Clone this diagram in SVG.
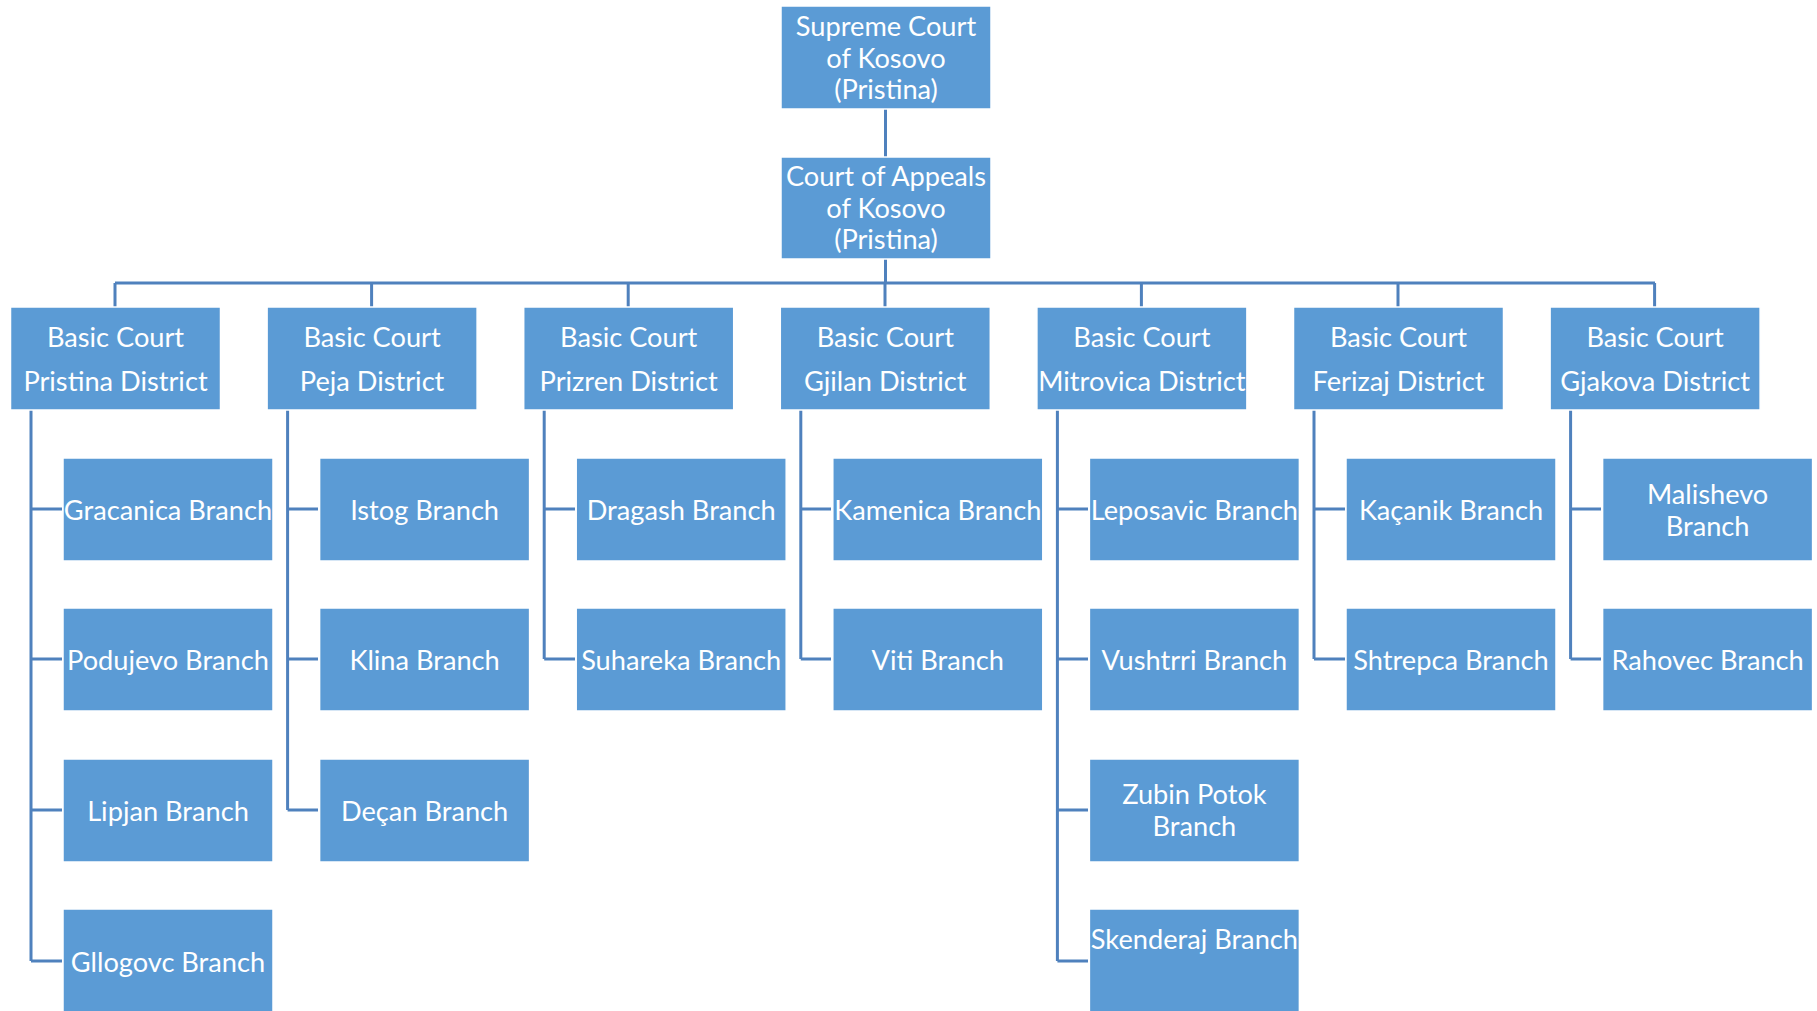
<svg xmlns="http://www.w3.org/2000/svg" width="1817" height="1011" viewBox="0 0 1817 1011">
<style>
.box{fill:#5B9BD5;stroke:#ffffff;stroke-width:1.5}
.t{font-family:Lato,"Open Sans","Liberation Sans",sans-serif;font-size:27.2px;fill:#ffffff;text-anchor:middle;dominant-baseline:central}
.c{fill:none;stroke:#4F81BD;stroke-width:3}
</style>
<rect width="1817" height="1011" fill="#ffffff"/>
<g id="connectors">
<path class="c" d="M885.5 109V157M885.5 259V283M115 283H1655M115 283V307M371.6 283V307M628.2 283V307M885 283V307M1141.4 283V307M1398 283V307M1654.6 283V307"/>
<path class="c" d="M31 410V961M31 509H62M31 659H62M31 810H62M31 961H62"/>
<path class="c" d="M287.6 410V810M287.6 509H318M287.6 659H318M287.6 810H318"/>
<path class="c" d="M544.2 410V659M544.2 509H575M544.2 659H575"/>
<path class="c" d="M800.8 410V659M800.8 509H831M800.8 659H831"/>
<path class="c" d="M1057.4 410V961M1057.4 509H1088M1057.4 659H1088M1057.4 810H1088M1057.4 961H1088"/>
<path class="c" d="M1314 410V659M1314 509H1345M1314 659H1345"/>
<path class="c" d="M1570.6 410V659M1570.6 509H1601M1570.6 659H1601"/>
</g>
<g id="supreme"><rect class="box" x="781" y="6" width="210" height="103"/><text class="t" x="886" y="25">Supreme Court</text><text class="t" x="886" y="57">of Kosovo</text><text class="t" x="886" y="88">(Pristina)</text></g>
<g id="appeals"><rect class="box" x="781" y="157" width="210" height="102"/><text class="t" x="886" y="175">Court of Appeals</text><text class="t" x="886" y="207">of Kosovo</text><text class="t" x="886" y="238">(Pristina)</text></g>
<g id="pristina"><rect class="box" x="10.5" y="307" width="210" height="103"/><text class="t" x="115.5" y="336">Basic Court</text><text class="t" x="115.5" y="380">Pristina District</text></g>
<g id="peja"><rect class="box" x="267.1" y="307" width="210" height="103"/><text class="t" x="372.1" y="336">Basic Court</text><text class="t" x="372.1" y="380">Peja District</text></g>
<g id="prizren"><rect class="box" x="523.7" y="307" width="210" height="103"/><text class="t" x="628.7" y="336">Basic Court</text><text class="t" x="628.7" y="380">Prizren District</text></g>
<g id="gjilan"><rect class="box" x="780.3" y="307" width="210" height="103"/><text class="t" x="885.3" y="336">Basic Court</text><text class="t" x="885.3" y="380">Gjilan District</text></g>
<g id="mitrovica"><rect class="box" x="1036.9" y="307" width="210" height="103"/><text class="t" x="1141.9" y="336">Basic Court</text><text class="t" x="1141.9" y="380">Mitrovica District</text></g>
<g id="ferizaj"><rect class="box" x="1293.5" y="307" width="210" height="103"/><text class="t" x="1398.5" y="336">Basic Court</text><text class="t" x="1398.5" y="380">Ferizaj District</text></g>
<g id="gjakova"><rect class="box" x="1550.1" y="307" width="210" height="103"/><text class="t" x="1655.1" y="336">Basic Court</text><text class="t" x="1655.1" y="380">Gjakova District</text></g>

<g id="gracanica"><rect class="box" x="63" y="458" width="210" height="103"/><text class="t" x="168" y="509">Gracanica Branch</text></g>
<g id="podujevo"><rect class="box" x="63" y="608" width="210" height="103"/><text class="t" x="168" y="659">Podujevo Branch</text></g>
<g id="lipjan"><rect class="box" x="63" y="759" width="210" height="103"/><text class="t" x="168" y="810">Lipjan Branch</text></g>
<g id="gllogovc"><rect class="box" x="63" y="909" width="210" height="104"/><text class="t" x="168" y="961">Gllogovc Branch</text></g>

<g id="istog"><rect class="box" x="319.6" y="458" width="210" height="103"/><text class="t" x="424.6" y="509">Istog Branch</text></g>
<g id="klina"><rect class="box" x="319.6" y="608" width="210" height="103"/><text class="t" x="424.6" y="659">Klina Branch</text></g>
<g id="decan"><rect class="box" x="319.6" y="759" width="210" height="103"/><text class="t" x="424.6" y="810">Deçan Branch</text></g>

<g id="dragash"><rect class="box" x="576.2" y="458" width="210" height="103"/><text class="t" x="681.2" y="509">Dragash Branch</text></g>
<g id="suhareka"><rect class="box" x="576.2" y="608" width="210" height="103"/><text class="t" x="681.2" y="659">Suhareka Branch</text></g>

<g id="kamenica"><rect class="box" x="832.8" y="458" width="210" height="103"/><text class="t" x="937.8" y="509">Kamenica Branch</text></g>
<g id="viti"><rect class="box" x="832.8" y="608" width="210" height="103"/><text class="t" x="937.8" y="659">Viti Branch</text></g>

<g id="leposavic"><rect class="box" x="1089.4" y="458" width="210" height="103"/><text class="t" x="1194.4" y="509">Leposavic Branch</text></g>
<g id="vushtrri"><rect class="box" x="1089.4" y="608" width="210" height="103"/><text class="t" x="1194.4" y="659">Vushtrri Branch</text></g>
<g id="zubin"><rect class="box" x="1089.4" y="759" width="210" height="103"/><text class="t" x="1194.4" y="793">Zubin Potok</text><text class="t" x="1194.4" y="825">Branch</text></g>
<g id="skenderaj"><rect class="box" x="1089.4" y="909" width="210" height="104"/><text class="t" x="1194.4" y="938">Skenderaj Branch</text></g>

<g id="kacanik"><rect class="box" x="1346" y="458" width="210" height="103"/><text class="t" x="1451" y="509">Kaçanik Branch</text></g>
<g id="shtrepca"><rect class="box" x="1346" y="608" width="210" height="103"/><text class="t" x="1451" y="659">Shtrepca Branch</text></g>

<g id="malishevo"><rect class="box" x="1602.6" y="458" width="210" height="103"/><text class="t" x="1707.6" y="493">Malishevo</text><text class="t" x="1707.6" y="525">Branch</text></g>
<g id="rahovec"><rect class="box" x="1602.6" y="608" width="210" height="103"/><text class="t" x="1707.6" y="659">Rahovec Branch</text></g>
</svg>
